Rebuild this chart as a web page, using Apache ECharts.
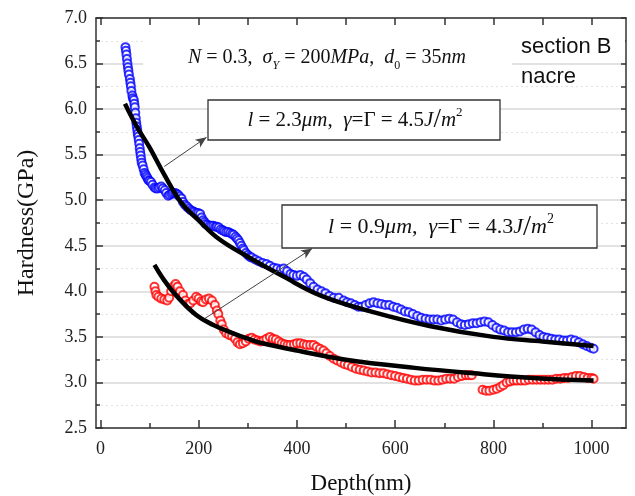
<!DOCTYPE html>
<html>
<head>
<meta charset="utf-8">
<script src="https://cdn.jsdelivr.net/npm/echarts@6/dist/echarts.min.js"></script>
<style>html,body{margin:0;padding:0;background:#fff;}#c{width:635px;height:496px;}</style>
</head>
<body>
<div id="c"></div>
<script>
// Depth (nm) and Hardness (GPa)
const blueDepth = [51,52,53,54,55,56,57,58,60,61,62,63,65,66,68,69,70,71,72,73,74,75,76,77,78,79,80,81,82,83,84,86,88,90,92,94,96,98,100,103,106,110,113,117,120,124,127,131,134,138,141,145,148,152,155,158,161,165,168,172,176,180,184,188,191,195,199,203,206,209,212,214,218,222,226,230,234,237,241,245,249,252,256,260,264,268,271,275,278,281,284,287,290,292,296,300,304,308,315,322,330,338,345,353,360,367,373,380,387,393,400,407,414,420,427,434,442,450,458,466,475,485,495,502,510,518,525,532,540,548,556,564,572,580,588,596,604,612,620,628,636,645,653,662,670,678,686,694,702,710,718,726,734,742,750,758,766,774,782,790,798,806,814,822,830,838,846,854,862,870,878,886,894,902,910,918,926,934,942,950,958,966,974,982,990,998,1004];
const blueHard = [6.68,6.64,6.60,6.55,6.50,6.46,6.42,6.38,6.33,6.29,6.25,6.20,6.15,6.12,6.10,6.06,6.02,5.96,5.90,5.85,5.81,5.77,5.73,5.70,5.66,5.62,5.57,5.53,5.49,5.45,5.41,5.38,5.34,5.30,5.28,5.26,5.24,5.22,5.21,5.20,5.17,5.14,5.13,5.13,5.14,5.15,5.13,5.11,5.08,5.05,5.06,5.07,5.08,5.08,5.07,5.06,5.04,5.02,4.98,4.95,4.93,4.91,4.89,4.88,4.87,4.86,4.86,4.85,4.81,4.78,4.76,4.74,4.73,4.72,4.72,4.72,4.71,4.71,4.70,4.68,4.67,4.66,4.65,4.65,4.64,4.63,4.62,4.60,4.58,4.56,4.53,4.50,4.47,4.45,4.42,4.40,4.38,4.37,4.35,4.33,4.31,4.30,4.28,4.26,4.25,4.24,4.25,4.22,4.19,4.18,4.17,4.18,4.16,4.13,4.09,4.05,4.02,4.00,3.98,3.95,3.93,3.93,3.90,3.88,3.87,3.85,3.83,3.83,3.85,3.87,3.88,3.87,3.86,3.85,3.85,3.83,3.82,3.80,3.78,3.77,3.75,3.73,3.71,3.70,3.69,3.69,3.69,3.68,3.69,3.70,3.69,3.66,3.64,3.63,3.64,3.65,3.65,3.66,3.67,3.66,3.63,3.60,3.58,3.57,3.55,3.55,3.55,3.56,3.58,3.59,3.58,3.55,3.52,3.50,3.49,3.48,3.47,3.47,3.46,3.46,3.47,3.46,3.44,3.42,3.40,3.38,3.37];

const redDepth = [110,112,114,118,124,130,136,140,144,148,153,157,162,168,173,178,183,189,195,200,205,209,215,221,227,233,237,240,244,247,251,256,262,268,274,279,284,290,296,302,308,314,320,326,332,338,345,351,357,363,369,375,381,387,394,400,407,414,420,427,434,440,447,454,460,467,475,482,490,497,504,512,520,528,536,544,552,560,568,576,584,592,600,608,616,624,632,640,648,656,664,672,680,688,696,704,712,720,728,736,744,750,756,778,785,792,800,807,814,820,827,834,841,848,856,864,872,880,888,896,904,912,920,928,936,944,952,960,968,976,984,992,1000,1004];
const redHard = [4.05,4.00,3.96,3.94,3.92,3.91,3.90,3.93,4.00,4.05,4.08,4.05,4.00,3.96,3.90,3.86,3.87,3.90,3.94,3.92,3.89,3.88,3.91,3.92,3.90,3.85,3.79,3.75,3.68,3.64,3.58,3.54,3.52,3.51,3.48,3.44,3.42,3.43,3.45,3.48,3.49,3.47,3.46,3.45,3.46,3.48,3.50,3.48,3.47,3.45,3.43,3.42,3.41,3.41,3.42,3.43,3.43,3.42,3.41,3.41,3.41,3.39,3.37,3.35,3.32,3.29,3.26,3.24,3.22,3.20,3.19,3.17,3.15,3.14,3.13,3.12,3.11,3.11,3.10,3.10,3.09,3.08,3.07,3.06,3.05,3.04,3.03,3.02,3.02,3.03,3.03,3.03,3.02,3.02,3.03,3.04,3.04,3.04,3.06,3.07,3.08,3.08,3.08,2.92,2.91,2.91,2.92,2.93,2.95,2.97,3.00,3.01,3.02,3.02,3.02,3.02,3.03,3.03,3.03,3.03,3.03,3.03,3.03,3.04,3.04,3.05,3.05,3.06,3.07,3.07,3.06,3.05,3.05,3.04];

const fit1Depth = [50,75,100,130,165,200,240,300,370,450,550,670,800,900,1004];
const fit1Hard = [6.06,5.80,5.58,5.28,4.97,4.78,4.58,4.38,4.17,3.95,3.78,3.62,3.50,3.45,3.40];
const fit2Depth = [110,130,155,195,230,265,300,330,400,500,640,760,880,1004];
const fit2Hard = [4.29,4.12,3.95,3.74,3.63,3.55,3.48,3.43,3.35,3.25,3.16,3.10,3.05,3.02];

const xMajorTicks = [0,200,400,600,800,1000];
const xMinorTicks = [100,300,500,700,900];
const xTopTicks = [0,100,200,300,400,500,600,700,800,900,1000];

// annotation arrows (data coords: start -> tip)
const arrow1 = [[130,5.37],[216,5.69]];
const arrow2 = [[212,3.70],[431,4.47]];

const zip = (a,b) => a.map((v,i)=>[v,b[i]]);

const serif = "'Liberation Serif','Times New Roman',serif";
const sans = "'Liberation Sans',Arial,sans-serif";
const axisCol = '#333';

const chart = echarts.init(document.getElementById('c'), null, {renderer:'canvas'});

const baseX = {type:'value', min:-9, max:1070, gridIndex:0, splitLine:{show:false}};
const baseY = {type:'value', min:2.5, max:7.0, interval:0.5};

function richSized(s){
  const c = '#111';
  return {
    i:{fontFamily:serif, fontStyle:'italic', fontSize:s, lineHeight:s+7, fill:c},
    n:{fontFamily:serif, fontSize:s, lineHeight:s+7, fill:c},
    sub:{fontFamily:serif, fontStyle:'italic', fontSize:Math.round(s*0.62), lineHeight:s+7, verticalAlign:'bottom', fill:c},
    subn:{fontFamily:serif, fontSize:Math.round(s*0.62), lineHeight:s+7, verticalAlign:'bottom', fill:c},
    sup:{fontFamily:serif, fontSize:Math.round(s*0.62), lineHeight:s+7, verticalAlign:'top', fill:c},
    sl:{fontFamily:serif, fontSize:Math.round(s*1.3), lineHeight:s+7, fill:c}
  };
}

chart.setOption({
  animation:false,
  backgroundColor:'#fff',
  grid:{left:96, top:18, right:9, bottom:68, outerBoundsMode:'none', containLabel:false},
  xAxis:[
    Object.assign({}, baseX, {
      position:'bottom',
      axisLine:{show:true, onZero:false, lineStyle:{color:axisCol, width:1.5}},
      axisTick:{show:true, inside:true, length:8, customValues:xMajorTicks, lineStyle:{color:axisCol, width:1.5}},
      axisLabel:{show:true, customValues:xMajorTicks, margin:12, fontSize:18, fontFamily:serif, color:'#222', formatter:v=>String(v)},
      name:'Depth(nm)', nameLocation:'middle', nameGap:44,
      nameTextStyle:{fontSize:23, fontFamily:serif, color:'#111'}
    }),
    Object.assign({}, baseX, {
      position:'bottom',
      axisLine:{show:false, onZero:false},
      axisTick:{show:true, inside:true, length:5, customValues:xMinorTicks, lineStyle:{color:axisCol, width:1.5}},
      axisLabel:{show:false}
    }),
    Object.assign({}, baseX, {
      position:'top',
      axisLine:{show:true, onZero:false, lineStyle:{color:axisCol, width:1.5}},
      axisTick:{show:true, inside:true, length:7, customValues:xTopTicks, lineStyle:{color:axisCol, width:1.5}},
      axisLabel:{show:false}
    })
  ],
  yAxis:[
    Object.assign({}, baseY, {
      position:'left',
      axisLine:{show:true, onZero:false, lineStyle:{color:axisCol, width:1.5}},
      axisTick:{show:true, inside:true, length:7, lineStyle:{color:axisCol, width:1.5}},
      minorTick:{show:true, splitNumber:2, length:4, lineStyle:{color:axisCol, width:1.5}},
      axisLabel:{show:true, margin:9, fontSize:18, fontFamily:serif, color:'#222', formatter:v=>v.toFixed(1)},
      splitLine:{show:true, lineStyle:{color:'#d9d9d9', width:1.5}},
      minorSplitLine:{show:true, lineStyle:{color:'#e2e2e2', width:1.2, type:[2,3]}},
      name:'Hardness(GPa)', nameLocation:'middle', nameGap:57,
      nameTextStyle:{fontSize:24, fontFamily:serif, color:'#111'}
    }),
    Object.assign({}, baseY, {
      position:'right',
      axisLine:{show:true, onZero:false, lineStyle:{color:axisCol, width:1.5}},
      axisTick:{show:true, inside:true, length:5, lineStyle:{color:axisCol, width:1.5}},
      minorTick:{show:true, splitNumber:2, length:5, lineStyle:{color:axisCol, width:1.5}},
      axisLabel:{show:false},
      splitLine:{show:false}
    })
  ],
  series:[
    {type:'scatter', name:'blue', xAxisIndex:0, yAxisIndex:0, data:zip(blueDepth, blueHard),
     symbol:'emptyCircle', symbolSize:8, itemStyle:{color:'#0000ff', borderWidth:2.2}, z:3},
    {type:'scatter', name:'red', xAxisIndex:0, yAxisIndex:0, data:zip(redDepth, redHard),
     symbol:'emptyCircle', symbolSize:8, itemStyle:{color:'#ff0000', borderWidth:2.2}, z:3},
    {type:'line', name:'fit1', xAxisIndex:0, yAxisIndex:0, data:zip(fit1Depth, fit1Hard), smooth:0.4,
     showSymbol:false, lineStyle:{color:'#000', width:4.5}, z:4,
     markLine:{silent:true, symbol:['none','arrow'], symbolSize:[7,11], label:{show:false},
       lineStyle:{color:'#444', width:1, type:'solid'},
       data:[[{coord:arrow1[0]},{coord:arrow1[1]}],[{coord:arrow2[0]},{coord:arrow2[1]}]]}},
    {type:'line', name:'fit2', xAxisIndex:0, yAxisIndex:0, data:zip(fit2Depth, fit2Hard), smooth:0.4,
     showSymbol:false, lineStyle:{color:'#000', width:4.5}, z:4}
  ],
  graphic:[
    {type:'rect', z:1, shape:{x:143, y:28, width:369, height:48}, style:{fill:'#fff'}},
    {type:'rect', z:1, shape:{x:512, y:30, width:113, height:26}, style:{fill:'#fff'}},
    {type:'text', z:10, x:327, y:58, style:{
      text:'{i|N}{n| = 0.3,  }{i|σ}{sub|Y}{n| = 200}{i|MPa}{n|,  }{i|d}{subn|0}{n| = 35}{i|nm}',
      align:'center', verticalAlign:'middle', rich:richSized(20)}},
    {type:'text', z:10, x:521, y:47, style:{text:'section B', font:'22px '+sans, fill:'#111', verticalAlign:'middle'}},
    {type:'text', z:10, x:521, y:77, style:{text:'nacre', font:'22px '+sans, fill:'#111', verticalAlign:'middle'}},
    {type:'rect', z:10, shape:{x:208, y:100, width:292, height:40}, style:{fill:'#fff', stroke:'#333', lineWidth:1.3}},
    {type:'text', z:11, x:355, y:120, style:{
      text:'{i|l}{n| = 2.3}{i|μm}{n|,  }{i|γ}{n|=Γ = 4.5}{i|J}{sl|/}{i|m}{sup|2}',
      align:'center', verticalAlign:'middle', rich:richSized(21)}},
    {type:'rect', z:10, shape:{x:282, y:205, width:315, height:43}, style:{fill:'#fff', stroke:'#333', lineWidth:1.3}},
    {type:'text', z:11, x:441, y:227, style:{
      text:'{i|l}{n| = 0.9}{i|μm}{n|,  }{i|γ}{n|=Γ = 4.3}{i|J}{sl|/}{i|m}{sup|2}',
      align:'center', verticalAlign:'middle', rich:richSized(22)}}
  ]
});
</script>
</body>
</html>
